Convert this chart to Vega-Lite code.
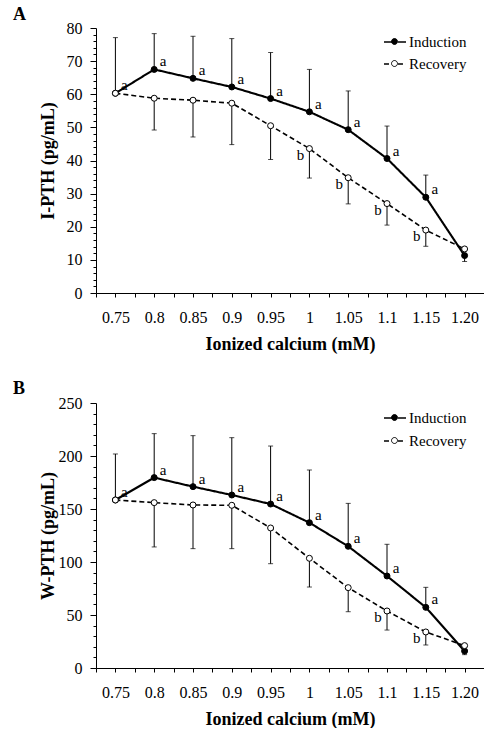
{
  "$schema": "https://vega.github.io/schema/vega-lite/v6.json",
  "background": "white",
  "padding": {"left": 13, "top": 6, "right": 0, "bottom": 0},
  "config": {
    "font": "Liberation Serif",
    "view": {"stroke": null},
    "axis": {
      "labelFont": "Liberation Serif",
      "labelFontSize": 16,
      "labelColor": "black",
      "titleFont": "Liberation Serif",
      "titleFontSize": 18,
      "titleFontWeight": "bold",
      "titleColor": "black",
      "domainColor": "black",
      "tickColor": "black",
      "grid": false,
      "labelOverlap": false,
      "labelFlush": false
    },
    "legend": {
      "labelFont": "Liberation Serif",
      "labelFontSize": 15,
      "labelColor": "black"
    }
  },
  "datasets": {
    "A": [
      {"ca": 0.75, "series": "Induction", "mean": 60.3, "end": 77.1, "sig": "a"},
      {"ca": 0.8, "series": "Induction", "mean": 67.5, "end": 78.3, "sig": "a"},
      {"ca": 0.85, "series": "Induction", "mean": 64.8, "end": 77.5, "sig": "a"},
      {"ca": 0.9, "series": "Induction", "mean": 62.2, "end": 76.8, "sig": "a"},
      {"ca": 0.95, "series": "Induction", "mean": 58.7, "end": 72.6, "sig": "a"},
      {"ca": 1.0, "series": "Induction", "mean": 54.7, "end": 67.5, "sig": "a"},
      {"ca": 1.05, "series": "Induction", "mean": 49.3, "end": 61.0, "sig": "a"},
      {"ca": 1.1, "series": "Induction", "mean": 40.6, "end": 50.4, "sig": "a"},
      {"ca": 1.15, "series": "Induction", "mean": 28.9, "end": 35.6, "sig": "a"},
      {"ca": 1.2, "series": "Induction", "mean": 11.3, "end": 9.5, "sig": ""},
      {"ca": 0.75, "series": "Recovery", "mean": 60.3, "end": null, "sig": ""},
      {"ca": 0.8, "series": "Recovery", "mean": 58.8, "end": 49.2, "sig": ""},
      {"ca": 0.85, "series": "Recovery", "mean": 58.2, "end": 47.1, "sig": ""},
      {"ca": 0.9, "series": "Recovery", "mean": 57.3, "end": 44.8, "sig": ""},
      {"ca": 0.95, "series": "Recovery", "mean": 50.5, "end": 40.3, "sig": ""},
      {"ca": 1.0, "series": "Recovery", "mean": 43.6, "end": 34.7, "sig": "b"},
      {"ca": 1.05, "series": "Recovery", "mean": 34.8, "end": 26.9, "sig": "b"},
      {"ca": 1.1, "series": "Recovery", "mean": 27.0, "end": 20.5, "sig": "b"},
      {"ca": 1.15, "series": "Recovery", "mean": 19.0, "end": 14.1, "sig": "b"},
      {"ca": 1.2, "series": "Recovery", "mean": 13.3, "end": null, "sig": ""}
    ],
    "B": [
      {"ca": 0.75, "series": "Induction", "mean": 158.5, "end": 201.9, "sig": "a"},
      {"ca": 0.8, "series": "Induction", "mean": 179.6, "end": 221.1, "sig": "a"},
      {"ca": 0.85, "series": "Induction", "mean": 171.1, "end": 219.2, "sig": "a"},
      {"ca": 0.9, "series": "Induction", "mean": 163.2, "end": 217.3, "sig": "a"},
      {"ca": 0.95, "series": "Induction", "mean": 154.7, "end": 209.4, "sig": "a"},
      {"ca": 1.0, "series": "Induction", "mean": 137.1, "end": 186.8, "sig": "a"},
      {"ca": 1.05, "series": "Induction", "mean": 114.8, "end": 155.3, "sig": "a"},
      {"ca": 1.1, "series": "Induction", "mean": 86.8, "end": 116.7, "sig": "a"},
      {"ca": 1.15, "series": "Induction", "mean": 57.2, "end": 76.1, "sig": "a"},
      {"ca": 1.2, "series": "Induction", "mean": 16.0, "end": 12.6, "sig": ""},
      {"ca": 0.75, "series": "Recovery", "mean": 158.5, "end": null, "sig": ""},
      {"ca": 0.8, "series": "Recovery", "mean": 156.0, "end": 114.2, "sig": ""},
      {"ca": 0.85, "series": "Recovery", "mean": 153.8, "end": 112.6, "sig": ""},
      {"ca": 0.9, "series": "Recovery", "mean": 153.5, "end": 112.6, "sig": ""},
      {"ca": 0.95, "series": "Recovery", "mean": 132.1, "end": 98.4, "sig": ""},
      {"ca": 1.0, "series": "Recovery", "mean": 103.5, "end": 76.4, "sig": ""},
      {"ca": 1.05, "series": "Recovery", "mean": 75.8, "end": 53.1, "sig": ""},
      {"ca": 1.1, "series": "Recovery", "mean": 53.8, "end": 35.8, "sig": "b"},
      {"ca": 1.15, "series": "Recovery", "mean": 34.0, "end": 21.7, "sig": "b"},
      {"ca": 1.2, "series": "Recovery", "mean": 21.1, "end": null, "sig": ""}
    ]
  },
  "columns": 1,
  "align": "none",
  "spacing": 27,
  "resolve": {
    "scale": {"strokeDash": "independent", "fill": "independent"},
    "legend": {"strokeDash": "independent", "fill": "independent"}
  },
  "concat": [
    {
      "width": 388,
      "height": 265,
      "data": {"name": "A"},
      "title": {"text": "A", "anchor": "start", "frame": "group", "font": "Liberation Serif", "fontSize": 18, "fontWeight": "bold", "color": "black", "offset": -4, "dx": -83},
      "encoding": {
        "x": {
          "field": "ca", "type": "quantitative",
          "scale": {"domain": [0.725, 1.225], "nice": false, "zero": false},
          "axis": {
            "title": "Ionized calcium (mM)",
            "values": [0.725, 0.75, 0.775, 0.8, 0.825, 0.85, 0.875, 0.9, 0.925, 0.95, 0.975, 1.0, 1.025, 1.05, 1.075, 1.1, 1.125, 1.15, 1.175, 1.2, 1.225],
            "format": ".2~f",
            "labelExpr": "datum.value == 1.2 ? '1.20' : (abs(datum.value * 20 - round(datum.value * 20)) < 0.001 ? datum.label : '')",
            "labelFont": "Liberation Serif",
            "labelOverlap": false,
            "labelFlush": false,
            "tickSize": 4,
            "labelPadding": 12,
            "titlePadding": 10
          }
        },
        "y": {
          "field": "mean", "type": "quantitative",
          "scale": {"domain": [0, 80], "nice": false, "zero": true},
          "axis": {
            "title": "I-PTH (pg/mL)",
            "titleX": -39,
            "values": [0, 2, 4, 6, 8, 10, 12, 14, 16, 18, 20, 22, 24, 26, 28, 30, 32, 34, 36, 38, 40, 42, 44, 46, 48, 50, 52, 54, 56, 58, 60, 62, 64, 66, 68, 70, 72, 74, 76, 78, 80],
            "labelExpr": "datum.value % 10 === 0 ? datum.label : ''",
            "labelFont": "Liberation Serif",
            "labelOverlap": false,
            "labelFlush": false,
            "tickSize": {"condition": {"test": "datum.value % 10 === 0", "value": 6}, "value": 3},
            "labelPadding": 8
          }
        }
      },
      "layer": [
        {
          "transform": [{"filter": "datum.end != null"}],
          "mark": {"type": "rule", "color": "black", "strokeWidth": 1},
          "encoding": {"y2": {"field": "end"}}
        },
        {
          "transform": [{"filter": "datum.end != null"}],
          "mark": {"type": "tick", "orient": "horizontal", "color": "black", "size": 5, "thickness": 1},
          "encoding": {"y": {"field": "end", "type": "quantitative"}}
        },
        {
          "mark": {"type": "line", "color": "black"},
          "encoding": {
            "strokeDash": {
              "field": "series", "type": "nominal",
              "scale": {"domain": ["Induction", "Recovery"], "range": [[1, 0], [5, 3]]},
              "legend": {
                "title": null, "orient": "none", "legendX": 287, "legendY": 2,
                "symbolType": "M-1,0H-0.27M0.27,0H1",
                "symbolSize": 484, "symbolStrokeWidth": 1.5, "symbolStrokeColor": "black",
                "labelOffset": 2, "rowPadding": 2,
                "labelFont": "Liberation Serif", "labelFontSize": 15, "labelColor": "black"
              }
            },
            "strokeWidth": {"condition": {"test": "datum.series === 'Induction'", "value": 2.1}, "value": 1.6}
          }
        },
        {
          "mark": {"type": "point", "shape": "circle", "size": 36, "stroke": "black", "strokeWidth": 1, "opacity": 1},
          "encoding": {
            "fill": {
              "field": "series", "type": "nominal",
              "scale": {"range": ["black", "white"]},
              "legend": {
                "title": null, "orient": "none", "legendX": 287, "legendY": 2,
                "symbolType": "M0.27,0C0.27,0.149,0.149,0.27,0,0.27C-0.149,0.27,-0.27,0.149,-0.27,0C-0.27,-0.149,-0.149,-0.27,0,-0.27C0.149,-0.27,0.27,-0.149,0.27,0Z",
                "symbolSize": 484, "symbolStrokeWidth": 1, "symbolStrokeColor": "black", "symbolOpacity": 1,
                "labelOffset": 2, "rowPadding": 2, "labelOpacity": 0,
                "labelFont": "Liberation Serif", "labelFontSize": 15, "labelColor": "black"
              }
            }
          }
        },
        {
          "transform": [{"filter": "datum.series === 'Induction'"}],
          "mark": {"type": "text", "dx": 9, "dy": -8, "fontSize": 15, "font": "Liberation Serif", "color": "black"},
          "encoding": {"text": {"field": "sig"}}
        },
        {
          "transform": [{"filter": "datum.series === 'Recovery'"}],
          "mark": {"type": "text", "dx": -9, "dy": 6, "fontSize": 15, "font": "Liberation Serif", "color": "black"},
          "encoding": {"text": {"field": "sig"}}
        }
      ]
    },
    {
      "width": 388,
      "height": 265,
      "data": {"name": "B"},
      "title": {"text": "B", "anchor": "start", "frame": "group", "font": "Liberation Serif", "fontSize": 18, "fontWeight": "bold", "color": "black", "offset": -3, "dx": -83},
      "encoding": {
        "x": {
          "field": "ca", "type": "quantitative",
          "scale": {"domain": [0.725, 1.225], "nice": false, "zero": false},
          "axis": {
            "title": "Ionized calcium (mM)",
            "values": [0.725, 0.75, 0.775, 0.8, 0.825, 0.85, 0.875, 0.9, 0.925, 0.95, 0.975, 1.0, 1.025, 1.05, 1.075, 1.1, 1.125, 1.15, 1.175, 1.2, 1.225],
            "format": ".2~f",
            "labelExpr": "datum.value == 1.2 ? '1.20' : (abs(datum.value * 20 - round(datum.value * 20)) < 0.001 ? datum.label : '')",
            "labelFont": "Liberation Serif",
            "labelOverlap": false,
            "labelFlush": false,
            "tickSize": 4,
            "labelPadding": 12,
            "titlePadding": 10
          }
        },
        "y": {
          "field": "mean", "type": "quantitative",
          "scale": {"domain": [0, 250], "nice": false, "zero": true},
          "axis": {
            "title": "W-PTH (pg/mL)",
            "titleX": -39,
            "values": [0, 10, 20, 30, 40, 50, 60, 70, 80, 90, 100, 110, 120, 130, 140, 150, 160, 170, 180, 190, 200, 210, 220, 230, 240, 250],
            "labelExpr": "datum.value % 50 === 0 ? datum.label : ''",
            "labelFont": "Liberation Serif",
            "labelOverlap": false,
            "labelFlush": false,
            "tickSize": {"condition": {"test": "datum.value % 50 === 0", "value": 6}, "value": 3},
            "labelPadding": 8
          }
        }
      },
      "layer": [
        {
          "transform": [{"filter": "datum.end != null"}],
          "mark": {"type": "rule", "color": "black", "strokeWidth": 1},
          "encoding": {"y2": {"field": "end"}}
        },
        {
          "transform": [{"filter": "datum.end != null"}],
          "mark": {"type": "tick", "orient": "horizontal", "color": "black", "size": 5, "thickness": 1},
          "encoding": {"y": {"field": "end", "type": "quantitative"}}
        },
        {
          "mark": {"type": "line", "color": "black"},
          "encoding": {
            "strokeDash": {
              "field": "series", "type": "nominal",
              "scale": {"domain": ["Induction", "Recovery"], "range": [[1, 0], [5, 3]]},
              "legend": {
                "title": null, "orient": "none", "legendX": 287, "legendY": 3,
                "symbolType": "M-1,0H-0.27M0.27,0H1",
                "symbolSize": 484, "symbolStrokeWidth": 1.5, "symbolStrokeColor": "black",
                "labelOffset": 2, "rowPadding": 3,
                "labelFont": "Liberation Serif", "labelFontSize": 15, "labelColor": "black"
              }
            },
            "strokeWidth": {"condition": {"test": "datum.series === 'Induction'", "value": 2.1}, "value": 1.6}
          }
        },
        {
          "mark": {"type": "point", "shape": "circle", "size": 36, "stroke": "black", "strokeWidth": 1, "opacity": 1},
          "encoding": {
            "fill": {
              "field": "series", "type": "nominal",
              "scale": {"range": ["black", "white"]},
              "legend": {
                "title": null, "orient": "none", "legendX": 287, "legendY": 3,
                "symbolType": "M0.27,0C0.27,0.149,0.149,0.27,0,0.27C-0.149,0.27,-0.27,0.149,-0.27,0C-0.27,-0.149,-0.149,-0.27,0,-0.27C0.149,-0.27,0.27,-0.149,0.27,0Z",
                "symbolSize": 484, "symbolStrokeWidth": 1, "symbolStrokeColor": "black", "symbolOpacity": 1,
                "labelOffset": 2, "rowPadding": 3, "labelOpacity": 0,
                "labelFont": "Liberation Serif", "labelFontSize": 15, "labelColor": "black"
              }
            }
          }
        },
        {
          "transform": [{"filter": "datum.series === 'Induction'"}],
          "mark": {"type": "text", "dx": 9, "dy": -8, "fontSize": 15, "font": "Liberation Serif", "color": "black"},
          "encoding": {"text": {"field": "sig"}}
        },
        {
          "transform": [{"filter": "datum.series === 'Recovery'"}],
          "mark": {"type": "text", "dx": -9, "dy": 6, "fontSize": 15, "font": "Liberation Serif", "color": "black"},
          "encoding": {"text": {"field": "sig"}}
        }
      ]
    }
  ]
}
